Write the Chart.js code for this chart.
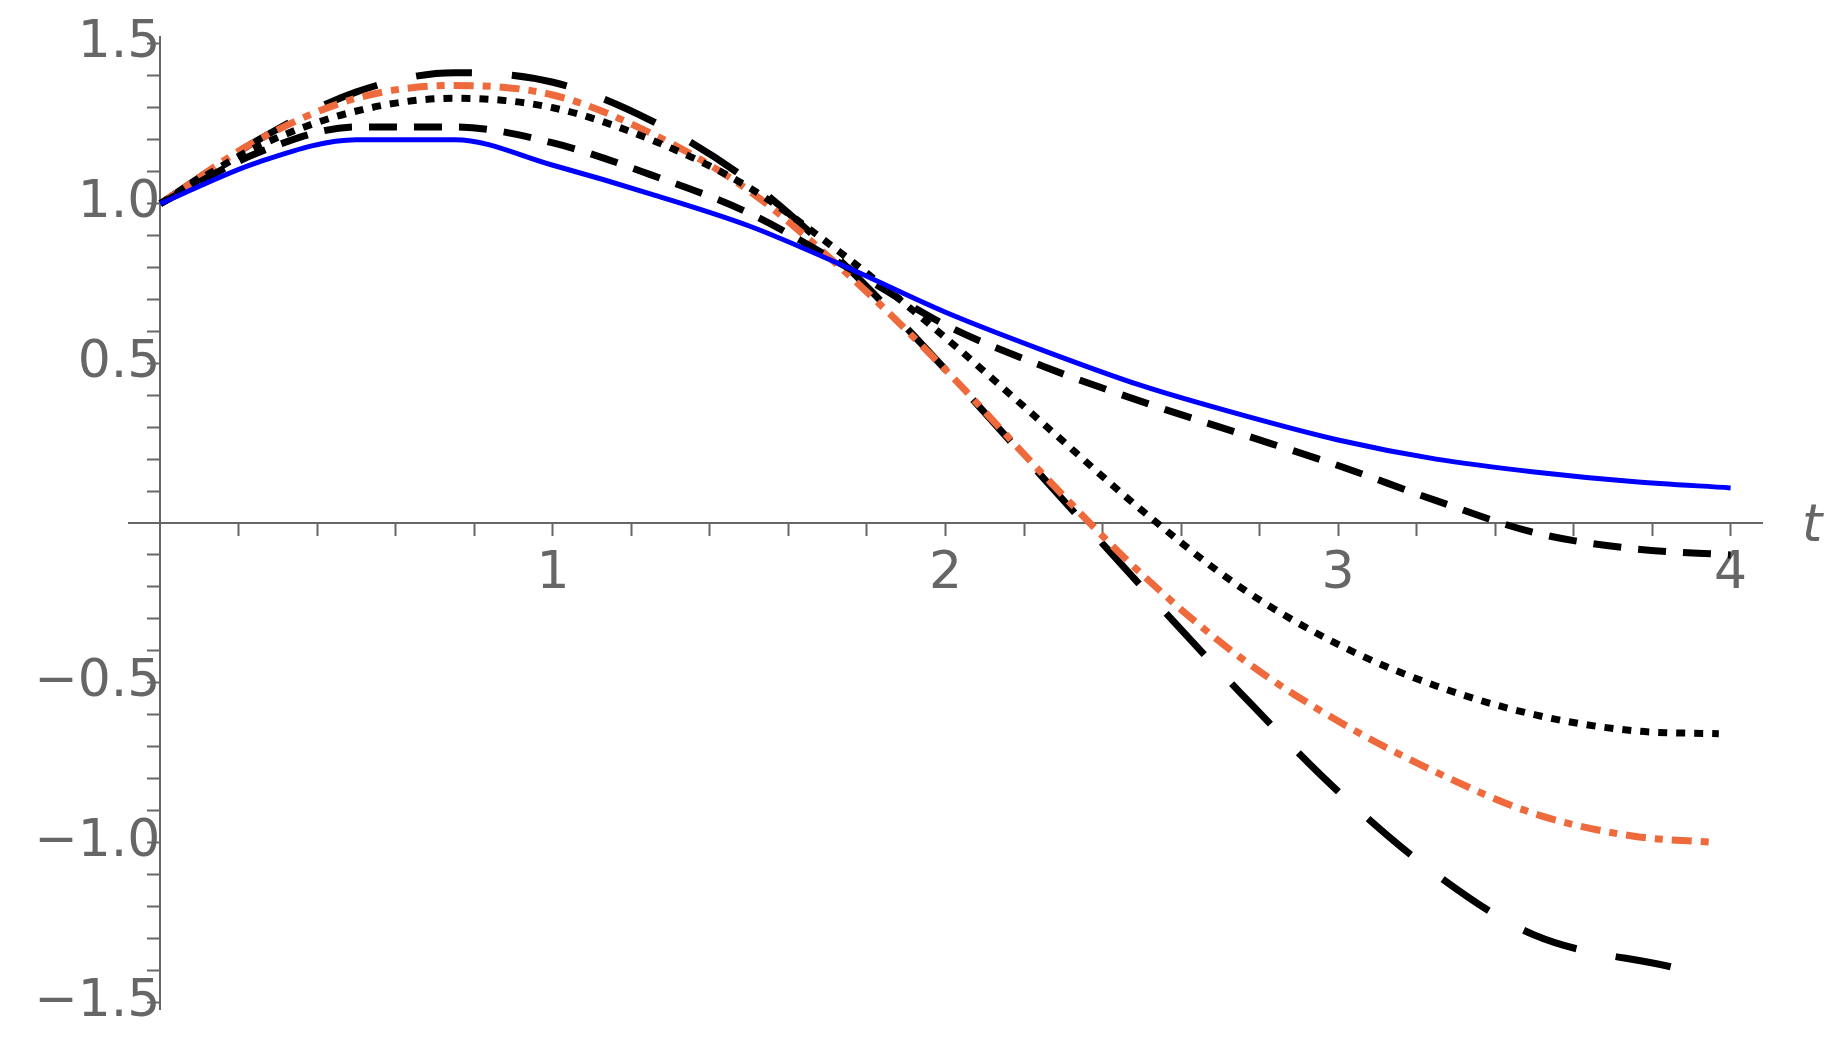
<!DOCTYPE html>
<html>
<head>
<meta charset="utf-8">
<script src="https://cdn.jsdelivr.net/npm/chart.js@4"></script>
<style>
  html, body { margin: 0; padding: 0; background: #fff; }
  #wrap { width: 1848px; height: 1047px; }
</style>
</head>
<body>
<div id="wrap"><canvas id="plot"></canvas></div>
<script>
// sample times and curve values
const tVals = [0, 0.25, 0.5, 0.75, 1, 1.25, 1.5, 1.75, 2, 2.25, 2.5, 2.75, 3, 3.25, 3.5, 3.75, 4];
const blueSolid = [1, 1.13, 1.2, 1.2, 1.12, 1.03, 0.93, 0.8, 0.66, 0.54, 0.43, 0.34, 0.26, 0.2, 0.16, 0.13, 0.11];
const medDash   = [1, 1.16, 1.24, 1.24, 1.19, 1.09, 0.97, 0.8, 0.62, 0.49, 0.38, 0.28, 0.18, 0.07, -0.03, -0.08, -0.1];
const dotted    = [1, 1.18, 1.29, 1.33, 1.3, 1.2, 1.05, 0.83, 0.58, 0.31, 0.04, -0.2, -0.38, -0.51, -0.6, -0.65, -0.66];
const orangeDD  = [1, 1.2, 1.33, 1.37, 1.34, 1.22, 1.04, 0.78, 0.48, 0.15, -0.16, -0.42, -0.62, -0.78, -0.91, -0.98, -1.0];
const longDash  = [1, 1.2, 1.35, 1.41, 1.38, 1.26, 1.07, 0.8, 0.48, 0.14, -0.2, -0.53, -0.84, -1.1, -1.29, -1.39];
const yLabelsAt = [-1.5, -1.0, -0.5, 0.5, 1.0, 1.5];
const xLabelsAt = [1, 2, 3, 4];

const pts = ys => ys.map((y, i) => ({ x: tVals[i], y }));
function trimEnd(arr, endT) {
  // curves that stop a little before t=4
  const a = arr.slice();
  a[a.length - 1] = { x: endT, y: a[a.length - 1].y };
  return a;
}

const AXIS = '#666666';
const near = (v, list) => list.some(l => Math.abs(v - l) < 1e-6);

const tLabel = {
  id: 'tLabel',
  afterDraw(chart) {
    const { ctx, scales } = chart;
    ctx.save();
    ctx.fillStyle = AXIS;
    ctx.font = 'italic 52px "DejaVu Sans"';
    ctx.textBaseline = 'middle';
    ctx.fillText('t', scales.x.right + 40, scales.y.getPixelForValue(0) + 4);
    ctx.restore();
  }
};

new Chart(document.getElementById('plot'), {
  type: 'line',
  data: {
    datasets: [
      { data: pts(blueSolid), borderColor: '#0000ff', borderWidth: 5 },
      { data: pts(medDash), borderColor: '#000', borderWidth: 7, borderDash: [28, 17] },
      { data: trimEnd(pts(dotted), 3.97), borderColor: '#000', borderWidth: 7, borderDash: [9, 9] },
      { data: trimEnd(pts(orangeDD), 3.96), borderColor: '#ee6a3c', borderWidth: 7, borderDash: [20, 9, 8, 9] },
      { data: trimEnd(pts(longDash), 3.85), borderColor: '#000', borderWidth: 7, borderDash: [56, 40] }
    ]
  },
  options: {
    responsive: true,
    maintainAspectRatio: false,
    animation: false,
    layout: { padding: { left: 129, right: 86, top: 10, bottom: 10 } },
    elements: { point: { radius: 0 }, line: { cubicInterpolationMode: 'monotone', fill: false } },
    plugins: { legend: { display: false }, tooltip: { enabled: false } },
    scales: {
      x: {
        type: 'linear',
        min: -0.08, max: 4.08,
        position: { y: 0 },
        border: { color: AXIS, width: 2 },
        grid: { drawOnChartArea: false, color: AXIS, tickLength: 12, tickWidth: 2 },
        afterBuildTicks: s => { s.ticks = []; for (let i = 1; i <= 20; i++) s.ticks.push({ value: i * 0.2 }); },
        ticks: {
          autoSkip: false, maxRotation: 0, color: AXIS, padding: 8,
          font: { size: 52, family: '"DejaVu Sans"' },
          callback: v => near(v, xLabelsAt) ? String(Math.round(v)) : ''
        }
      },
      y: {
        type: 'linear',
        min: -1.524, max: 1.521,
        position: { x: 0 },
        border: { color: AXIS, width: 2 },
        grid: { drawOnChartArea: false, color: AXIS, tickLength: 12, tickWidth: 2 },
        afterBuildTicks: s => { s.ticks = []; for (let i = -15; i <= 15; i++) if (i !== 0) s.ticks.push({ value: i * 0.1 }); },
        ticks: {
          autoSkip: false, color: AXIS, padding: 6,
          font: { size: 52, family: '"DejaVu Sans"' },
          callback: v => near(v, yLabelsAt) ? (v < 0 ? '\u2212' : '') + Math.abs(v).toFixed(1) : ''
        }
      }
    }
  },
  plugins: [tLabel]
});
</script>
</body>
</html>
